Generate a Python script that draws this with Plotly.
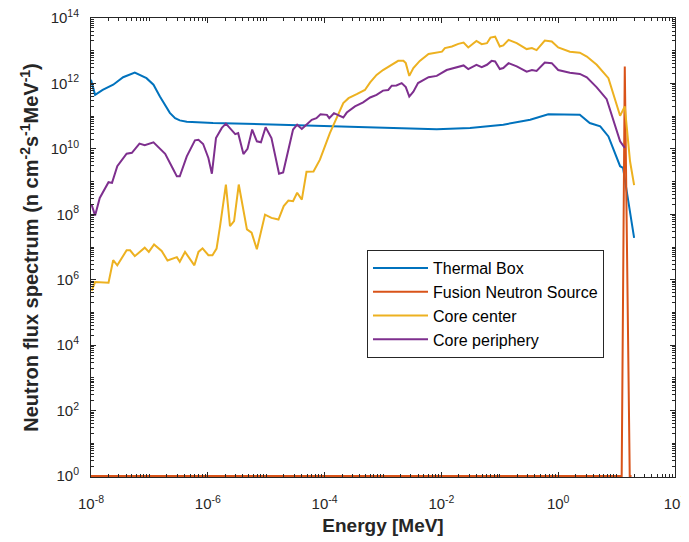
import plotly.graph_objects as go

# log10(Energy [MeV]) and log10(flux)
thermal_logE = [-8.0, -7.93, -7.8, -7.62, -7.45, -7.25, -7.05, -6.93, -6.82, -6.73, -6.65, -6.56,
                -6.48, -6.36, -5.91, -4.76, -3.22, -2.08, -1.51,
                -0.94, -0.48, -0.17, 0.37, 0.54, 0.72, 0.86, 1.06, 1.11, 1.30]
thermal_logF = [12.11, 11.65, 11.8, 11.96, 12.19, 12.33, 12.16, 11.96, 11.6, 11.32, 11.1, 10.94,
                10.87, 10.83, 10.79, 10.74, 10.66, 10.6, 10.64,
                10.74, 10.89, 11.06, 11.04, 10.79, 10.69, 10.38, 9.47, 9.42, 7.28]

fusion_logE = [-8.0, 1.087, 1.14, 1.225, 1.255]
fusion_logF = [0.0, 0.0, 12.52, 0.0, 0.0]

center_logE = [-7.99, -7.93, -7.70, -7.62, -7.55, -7.39, -7.33, -7.25, -7.08, -7.01, -6.92, -6.79,
               -6.69, -6.53, -6.48, -6.39, -6.23, -6.16, -6.09, -5.99, -5.92, -5.85, -5.79, -5.69,
               -5.62, -5.55, -5.47, -5.33, -5.25, -5.16, -5.02, -4.91, -4.79, -4.70, -4.62, -4.54,
               -4.47, -4.39, -4.31, -4.19, -4.08, -3.91, -3.68, -3.59, -3.45, -3.31, -3.22, -3.11,
               -3.0, -2.94, -2.85, -2.74, -2.65, -2.61, -2.55, -2.48, -2.37, -2.22, -1.99, -1.94,
               -1.82, -1.71, -1.62, -1.54, -1.40, -1.31, -1.22, -1.16, -1.08, -1.0, -0.94, -0.85,
               -0.71, -0.54, -0.45, -0.37, -0.23, -0.11, 0.0, 0.20, 0.37, 0.49, 0.66, 0.77, 0.86,
               1.06, 1.14, 1.23, 1.30]
center_logF = [5.66, 5.93, 5.91, 6.60, 6.44, 6.90, 6.90, 6.72, 6.98, 6.85, 7.08, 6.88,
               6.59, 6.69, 6.55, 6.85, 6.44, 6.85, 6.96, 6.75, 6.75, 6.95, 7.64, 8.91,
               7.64, 7.79, 8.91, 7.54, 7.44, 6.93, 7.99, 7.89, 7.84, 8.25, 8.42, 8.40,
               8.66, 8.45, 9.30, 9.31, 9.67, 10.48, 11.40, 11.55, 11.67, 11.80, 12.03, 12.26,
               12.41, 12.47, 12.57, 12.69, 12.69, 12.62, 12.23, 12.47, 12.69, 12.90, 12.97, 13.08,
               13.13, 13.21, 13.25, 13.10, 13.30, 13.20, 13.23, 13.40, 13.43, 13.13, 13.16, 13.33,
               13.23, 13.05, 13.08, 13.02, 13.31, 13.28, 13.10, 12.97, 12.94, 12.82, 12.57, 12.36, 12.16,
               11.01, 11.30, 9.62, 8.89]

periph_logE = [-7.99, -7.93, -7.85, -7.70, -7.64, -7.55, -7.39, -7.30, -7.17, -7.08, -6.93, -6.73,
               -6.59, -6.53, -6.48, -6.36, -6.22, -6.16, -6.08, -5.99, -5.93, -5.86, -5.76, -5.69,
               -5.53, -5.48, -5.39, -5.32, -5.24, -5.16, -5.09, -5.01, -4.91, -4.78, -4.71, -4.54,
               -4.47, -4.39, -4.34, -4.22, -4.14, -4.07, -3.96, -3.92, -3.84, -3.77, -3.68, -3.62,
               -3.48, -3.34, -3.22, -3.11, -3.0, -2.91, -2.85, -2.77, -2.68, -2.61, -2.55, -2.48,
               -2.40, -2.22, -2.08, -1.91, -1.77, -1.62, -1.54, -1.40, -1.31, -1.22, -1.14, -1.08,
               -1.0, -0.94, -0.85, -0.71, -0.54, -0.45, -0.37, -0.23, -0.11, 0.0, 0.20, 0.37,
               0.49, 0.66, 0.83, 0.94, 1.06, 1.14]
periph_logF = [8.30, 7.96, 8.50, 8.98, 8.96, 9.47, 9.85, 9.88, 10.16, 10.11, 10.20, 9.85,
               9.37, 9.16, 9.16, 9.77, 10.26, 10.28, 10.15, 9.72, 9.24, 10.33, 10.64, 10.77,
               10.45, 10.48, 9.84, 10.0, 10.59, 10.23, 10.20, 10.66, 10.33, 9.24, 9.28, 10.59,
               10.74, 10.61, 10.69, 10.89, 10.94, 11.06, 11.04, 10.94, 11.09, 11.04, 10.96, 11.11,
               11.30, 11.42, 11.57, 11.65, 11.78, 11.80, 11.93, 11.94, 12.01, 11.89, 11.60, 11.75,
               12.01, 12.19, 12.23, 12.41, 12.47, 12.55, 12.44, 12.57, 12.50, 12.57, 12.69, 12.67,
               12.44, 12.47, 12.62, 12.52, 12.36, 12.41, 12.38, 12.64, 12.62, 12.41, 12.33, 12.29,
               12.19, 11.88, 11.52, 10.89, 10.23, 10.03]

series_names = ["Thermal Box", "Fusion Neutron Source", "Core center", "Core periphery"]
series_colors = ["#0072BD", "#D95319", "#EDB120", "#7E2F8E"]

x_major = [-8, -6, -4, -2, 0, 2]
y_major = [0, 2, 4, 6, 8, 10, 12, 14]

FONT = "Liberation Sans, Arial, Helvetica, sans-serif"
INK = "#262626"

fig = go.Figure()
for name, color, lx, ly in zip(series_names, series_colors,
                               [thermal_logE, fusion_logE, center_logE, periph_logE],
                               [thermal_logF, fusion_logF, center_logF, periph_logF]):
    fig.add_trace(go.Scatter(x=[10 ** v for v in lx], y=[10 ** v for v in ly], mode="lines",
                             name=name, line=dict(color=color, width=2)))


def minor_vals(lo, hi, majors):
    vals = []
    for d in range(lo, hi):
        for k in range(1, 10):
            if not (k == 1 and d in majors):
                vals.append(k * 10.0 ** d)
    return vals


axis_common = dict(type="log", showgrid=False, zeroline=False, showline=True,
                   linecolor=INK, linewidth=1, mirror="ticks", ticks="inside",
                   ticklen=5, tickcolor=INK, automargin=False, ticklabeloverflow="allow",
                   tickfont=dict(family=FONT, size=15, color=INK))

fig.update_xaxes(**axis_common, range=[-8, 2],
                 tickmode="array", tickvals=[10.0 ** v for v in x_major],
                 ticktext=[f"10<sup>{v}</sup>" for v in x_major],
                 ticklabelstandoff=13,
                 minor=dict(ticks="inside", ticklen=3, tickcolor=INK,
                            tickmode="array", tickvals=minor_vals(-8, 2, x_major)),
                 title=dict(text="<b>Energy [MeV]</b>", standoff=7,
                            font=dict(family=FONT, size=19, color=INK)))
fig.update_yaxes(**axis_common, range=[-0.03, 14],
                 tickmode="array", tickvals=[10.0 ** v for v in y_major],
                 ticktext=[f"10<sup>{v}</sup>" for v in y_major],
                 ticklabelstandoff=8,
                 minor=dict(ticks="inside", ticklen=3, tickcolor=INK,
                            tickmode="array", tickvals=minor_vals(0, 14, y_major)),
                 title=dict(text="<b>Neutron flux spectrum (n cm<sup>-2</sup>s<sup>-1</sup>MeV<sup>-1</sup>)</b>",
                            standoff=6,
                            font=dict(family=FONT, size=20, color=INK)))

# the page body adds an 8px offset, so the figure is sized to fit inside the 689x542 window
fig.update_layout(
    width=681, height=534,
    margin=dict(l=83, r=14, t=10, b=65),
    paper_bgcolor="white", plot_bgcolor="white",
    font=dict(family=FONT, color=INK),
    legend=dict(x=0.4726, y=0.4946, xanchor="left", yanchor="top",
                bgcolor="white", bordercolor=INK, borderwidth=1,
                font=dict(family=FONT, size=16, color="black"),
                itemwidth=55, tracegroupgap=0),
    showlegend=True,
)

fig.write_html("out.html")
